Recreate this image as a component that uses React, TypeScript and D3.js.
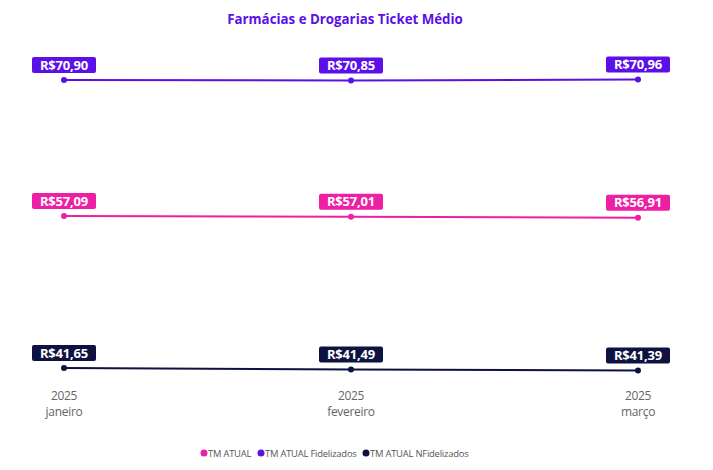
import React from "react";
import * as d3 from "d3";

const months = ["janeiro", "fevereiro", "março"];
const years = ["2025", "2025", "2025"];
const seriesNames = ["TM ATUAL", "TM ATUAL Fidelizados", "TM ATUAL NFidelizados"];
const tmAtual = [57.09, 57.01, 56.91];
const tmFidelizados = [70.9, 70.85, 70.96];
const tmNFidelizados = [41.65, 41.49, 41.39];
const colors = ["#ee1fa5", "#5b10e8", "#0e1240"];

const W = 713;
const H = 470;
const FONT = "'Open Sans', 'Noto Sans', sans-serif";

const fmt = (v: number) => "R$" + v.toFixed(2).replace(".", ",");

export default function App() {
  const x = d3.scalePoint<string>().domain(months).range([64, 638]);
  const y = d3.scaleLinear().domain([40, 72]).range([384.2, 69.2]);
  const series = [tmAtual, tmFidelizados, tmNFidelizados];
  const line = d3
    .line<number>()
    .x((_, i) => x(months[i]) as number)
    .y((d) => y(d));

  const legendItems = [
    { name: seriesNames[0], x: 204 },
    { name: seriesNames[1], x: 261 },
    { name: seriesNames[2], x: 366 },
  ];

  return (
    <svg
      width={W}
      height={H}
      style={{ position: "absolute", left: 0, top: 0, background: "#fff" }}
      fontFamily={FONT}
    >
      <text
        x={345}
        y={24}
        textAnchor="middle"
        fontSize={13.3}
        fontWeight="bold"
        fill="#5b10e8"
      >
        Farmácias e Drogarias Ticket Médio
      </text>

      {series.map((vals, si) => (
        <g key={si}>
          <path d={line(vals) || ""} fill="none" stroke={colors[si]} strokeWidth={2} />
          {vals.map((v, i) => {
            const cx = x(months[i]) as number;
            const cy = y(v);
            const bw = 64;
            const bh = 16;
            return (
              <g key={i}>
                <circle cx={cx} cy={cy} r={3} fill={colors[si]} />
                <rect
                  x={cx - bw / 2}
                  y={cy - 7 - bh}
                  width={bw}
                  height={bh}
                  rx={2}
                  fill={colors[si]}
                />
                <text
                  x={cx}
                  y={cy - 7 - bh / 2 + 4.6}
                  textAnchor="middle"
                  fontSize={13}
                  fontWeight="bold"
                  fill="#fff"
                  letterSpacing={-0.2}
                >
                  {fmt(v)}
                </text>
              </g>
            );
          })}
        </g>
      ))}

      {months.map((m, i) => (
        <g key={m}>
          <text
            x={x(m) as number}
            y={400}
            textAnchor="middle"
            fontSize={12}
            fill="#666"
            letterSpacing={-0.3}
          >
            {years[i]}
          </text>
          <text
            x={x(m) as number}
            y={416}
            textAnchor="middle"
            fontSize={12}
            fill="#666"
            letterSpacing={-0.3}
          >
            {m}
          </text>
        </g>
      ))}

      {legendItems.map((it, i) => (
        <g key={it.name}>
          <circle cx={it.x} cy={453} r={3.5} fill={colors[i]} />
          <text x={it.x + 4} y={456.5} fontSize={9.4} fill="#555" letterSpacing={-0.2}>
            {it.name}
          </text>
        </g>
      ))}
    </svg>
  );
}
